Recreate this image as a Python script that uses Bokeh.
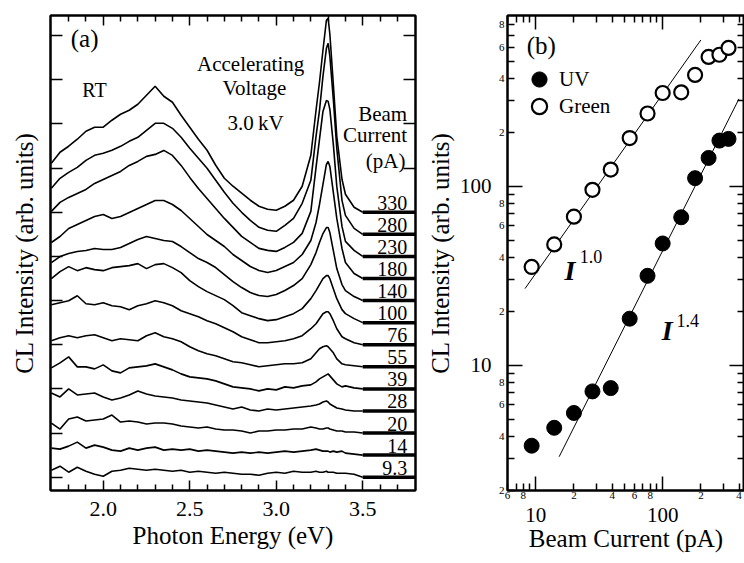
from bokeh.plotting import figure
from bokeh.models import (Range1d, LinearAxis, LogAxis, FixedTicker, CustomJSTickFormatter,
                          LabelSet, Legend, LegendItem, ColumnDataSource)
from bokeh.layouts import row
from bokeh.embed import file_html
from bokeh.resources import INLINE
from bokeh.core.properties import value

FONT = "serif"

# ---------------- panel (a) data: CL spectra (height above own baseline, arb. units)
energy = [1.70, 1.75, 1.80, 1.85, 1.90, 1.95, 2.00, 2.05, 2.10, 2.15, 2.20, 2.25, 2.30, 2.35,
          2.40, 2.45, 2.50, 2.55, 2.60, 2.65, 2.70, 2.75, 2.80, 2.85, 2.90, 2.95, 3.00, 3.05,
          3.10, 3.15, 3.20, 3.23, 3.25, 3.27, 3.29, 3.30, 3.31, 3.33, 3.35, 3.38, 3.40, 3.45, 3.50]

spec_9_3 = [7, 11, 5, 10, 6, 3, 1, 6, 7, 9, 8, 7, 8, 7, 6, 7, 5, 6, 5, 4, 5, 4, 3, 3, 2, 4, 5, 4, 6, 5,
            5, 6, 5, 5, 6, 5, 5, 5, 4, 4, 4, 3, 0]
spec_14 = [7, 6, 9, 13, 7, 10, 8, 5, 4, 7, 5, 7, 8, 5, 6, 5, 6, 4, 5, 4, 3, 2, 3, 2, 3, 2, 3, 4, 3, 4,
           5, 6, 5, 4, 4, 4, 3, 4, 3, 4, 2, 1, 0]
spec_20 = [10, 4, 14, 16, 12, 13, 14, 18, 11, 12, 11, 9, 10, 10, 9, 7, 6, 5, 6, 4, 3, 3, 2, 0, 2, 2, 3,
           3, 4, 4, 6, 5, 4, 4, 5, 5, 4, 3, 2, 2, 1, 1, 0]
spec_28 = [18, 14, 22, 16, 17, 18, 14, 11, 13, 16, 20, 17, 15, 14, 13, 11, 10, 9, 8, 6, 4, 2, 4, 1, 0,
           2, 1, 2, 3, 4, 5, 6, 7, 9, 10, 9, 7, 5, 3, 2, 1, 0, 0]
spec_39 = [21, 26, 32, 22, 22, 20, 24, 18, 16, 21, 22, 23, 25, 22, 19, 15, 12, 11, 10, 8, 5, 2, 1, 0,
           -2, 0, -1, 2, 1, 3, 4, 7, 10, 12, 14, 15, 13, 9, 5, 2, 3, 1, 0]
spec_55 = [26, 29, 31, 29, 31, 32, 29, 26, 28, 27, 26, 31, 34, 30, 28, 25, 20, 16, 13, 11, 8, 5, 4, 2,
           0, 1, 2, 3, 3, 4, 8, 14, 18, 20, 21, 20, 18, 14, 8, 3, 2, 1, 0]
spec_76 = [40, 42, 44, 49, 41, 40, 42, 39, 38, 35, 39, 41, 44, 42, 39, 34, 31, 28, 24, 21, 17, 13, 8,
           5, 2, 2, 3, 4, 6, 9, 16, 21, 26, 31, 33, 33, 31, 24, 16, 8, 6, 2, 0]
spec_100 = [44, 51, 56, 52, 55, 53, 52, 55, 56, 57, 59, 54, 58, 59, 55, 50, 42, 36, 31, 27, 23, 17, 10,
            7, 4, 2, 3, 6, 9, 14, 24, 32, 38, 44, 47, 47, 44, 34, 24, 13, 9, 4, 0]
spec_140 = [38, 44, 47, 49, 50, 52, 51, 51, 53, 57, 61, 64, 62, 60, 59, 54, 48, 42, 38, 33, 26, 19, 13,
            8, 5, 4, 6, 10, 15, 22, 36, 48, 58, 67, 73, 73, 68, 50, 32, 16, 10, 4, 0]
spec_180 = [36, 42, 50, 54, 58, 62, 64, 60, 62, 66, 70, 74, 78, 78, 74, 68, 60, 52, 44, 38, 32, 24, 18,
            12, 8, 6, 8, 12, 16, 24, 38, 56, 74, 94, 114, 117, 112, 86, 60, 30, 16, 5, 0]
spec_230 = [45, 54, 59, 63, 67, 73, 77, 81, 85, 91, 95, 100, 102, 106, 101, 91, 79, 68, 58, 48, 38, 29,
            20, 14, 8, 6, 5, 9, 14, 23, 45, 89, 117, 145, 156, 155, 147, 112, 70, 30, 15, 6, 0]
spec_280 = [46, 56, 62, 67, 74, 79, 81, 84, 88, 93, 97, 104, 111, 111, 106, 97, 86, 76, 66, 54, 42, 31,
            22, 14, 7, 4, 3, 9, 16, 31, 54, 98, 124, 158, 186, 191, 178, 135, 86, 34, 19, 6, 0]
spec_330 = [49, 60, 66, 73, 81, 85, 85, 92, 98, 102, 108, 117, 126, 116, 110, 97, 85, 73, 62, 47, 34,
            26, 19, 12, 6, 3, 2, 6, 12, 26, 57, 102, 130, 162, 192, 194, 178, 128, 76, 33, 18, 5, 0]

spectra = [spec_9_3, spec_14, spec_20, spec_28, spec_39, spec_55, spec_76, spec_100,
           spec_140, spec_180, spec_230, spec_280, spec_330]
current_labels = ["9.3", "14", "20", "28", "39", "55", "76", "100", "140", "180", "230", "280", "330"]

energy_ticks = [2.0, 2.5, 3.0, 3.5]
energy_minor = [1.8, 1.9, 2.1, 2.2, 2.3, 2.4, 2.6, 2.7, 2.8, 2.9, 3.1, 3.2, 3.3, 3.4, 3.6, 3.7]

# ---------------- panel (b) data
beam_current = [9.3, 14, 20, 28, 39, 55, 76, 100, 140, 180, 230, 280, 330]
uv_intensity = [3.55, 4.47, 5.41, 7.14, 7.45, 18.2, 31.6, 47.9, 67.1, 111, 144, 180, 184]
green_intensity = [35.4, 47.3, 67.6, 95.5, 124, 186, 255, 332, 335, 419, 528, 543, 593]
green_fit_x = [8.24, 200]
green_fit_y = [26.8, 657]
uv_fit_x = [15.3, 399]
uv_fit_y = [3.08, 308]

bx_major = [10, 100]
bx_minor = [6, 7, 8, 9, 20, 30, 40, 50, 60, 70, 80, 90, 200, 300, 400]
bx_labeled = [6, 8, 20, 40, 60, 80, 200, 400]
by_major = [10, 100]
by_minor = [2, 3, 4, 5, 6, 7, 8, 9, 20, 30, 40, 50, 60, 70, 80, 90, 200, 300, 400, 500, 600, 700, 800]
by_labeled = [2, 4, 6, 8, 20, 40, 60, 80, 200, 400, 600, 800]

# ---------------- layout constants
OFFSET = 22.08      # vertical shift between successive spectra
LABEL_X = 3.758     # right edge of the current labels

EMPTY = CustomJSTickFormatter(code="return '';")
DIGIT = CustomJSTickFormatter(code="""
const e = Math.floor(Math.log10(tick) + 1e-9);
return String(Math.round(tick / Math.pow(10, e)));
""")


def frame_axis(ax, ticker, major_in, minor_in, width=2):
    ax.ticker = ticker
    ax.axis_line_width = width
    ax.axis_line_color = "black"
    ax.major_tick_in = major_in
    ax.major_tick_out = 0
    ax.minor_tick_in = minor_in
    ax.minor_tick_out = 0
    ax.major_tick_line_width = 1.5
    ax.minor_tick_line_width = 1.5
    ax.major_tick_line_color = "black"
    ax.minor_tick_line_color = "black" if minor_in else None


def hide_labels(ax):
    ax.formatter = EMPTY
    ax.major_label_text_font_size = "0px"
    ax.major_label_standoff = 0


def label_axis(ax, ticker, formatter, size, standoff):
    ax.ticker = ticker
    ax.formatter = formatter
    ax.axis_line_color = None
    ax.major_tick_line_color = None
    ax.minor_tick_line_color = None
    ax.major_tick_in = 0
    ax.major_tick_out = 0
    ax.minor_tick_in = 0
    ax.minor_tick_out = 0
    ax.major_label_text_font = FONT
    ax.major_label_text_font_size = size
    ax.major_label_text_color = "black"
    ax.major_label_standoff = standoff


def axis_title(ax, text, standoff):
    ax.axis_label = text
    ax.axis_label_text_font = FONT
    ax.axis_label_text_font_size = "25px"
    ax.axis_label_text_font_style = "normal"
    ax.axis_label_text_color = "black"
    ax.axis_label_standoff = standoff


def add_text(p, xs, ys, texts, size, align="left", style="normal"):
    src = ColumnDataSource(dict(x=xs, y=ys, text=texts))
    p.add_layout(LabelSet(x="x", y="y", text="text", source=src, text_font=value(FONT),
                          text_font_size=size, text_font_style=style, text_align=align,
                          text_baseline="alphabetic", text_color="black"))


# ================= panel (a)
pa = figure(width=418, height=560,
            x_range=Range1d(1.695, 3.805), y_range=Range1d(-13.3, 461.7),
            output_backend="svg", toolbar_location=None,
            min_border_left=50, min_border_right=3, min_border_top=15, min_border_bottom=70)
pa.grid.visible = False
pa.outline_line_color = "black"
pa.outline_line_width = 2

offsets = [i * OFFSET for i in range(len(spectra))]
pa.multi_line(xs=[energy] * len(spectra),
              ys=[[v + off for v in s] for s, off in zip(spectra, offsets)],
              line_color="black", line_width=1.6)
pa.segment(x0=[energy[-1]] * len(offsets), y0=offsets,
           x1=[pa.x_range.end] * len(offsets), y1=offsets,
           line_color="black", line_width=3.5)
add_text(pa, [LABEL_X] * len(offsets), [o + 2.5 for o in offsets], current_labels, "20px", "right")

xa = pa.xaxis[0]
frame_axis(xa, FixedTicker(ticks=energy_ticks, minor_ticks=energy_minor), 10, 6)
xa.formatter = CustomJSTickFormatter(code="return tick.toFixed(1);")
xa.major_label_text_font = FONT
xa.major_label_text_font_size = "22px"
xa.major_label_text_color = "black"
xa.major_label_standoff = 11
axis_title(xa, "Photon Energy (eV)", 3)

top_a = LinearAxis()
frame_axis(top_a, FixedTicker(ticks=energy_ticks, minor_ticks=energy_minor), 10, 6)
hide_labels(top_a)
pa.add_layout(top_a, "above")

ya = pa.yaxis[0]
ytick_a = [2 * OFFSET * k for k in range(11)]
frame_axis(ya, FixedTicker(ticks=ytick_a, minor_ticks=[]), 12, 0)
hide_labels(ya)
axis_title(ya, "CL Intensity (arb. units)", 13)

right_a = LinearAxis()
frame_axis(right_a, FixedTicker(ticks=ytick_a, minor_ticks=[]), 12, 0)
hide_labels(right_a)
pa.add_layout(right_a, "right")

add_text(pa, [1.812], [430], ["(a)"], "25px")
add_text(pa, [1.879], [380], ["RT"], "20px")
add_text(pa, [2.852, 2.874, 2.880], [406, 382.4, 347.4],
         ["Accelerating", "Voltage", "3.0\u2009kV"], "21px", "center")
add_text(pa, [3.757, 3.757, 3.747], [356, 335, 309], ["Beam", "Current", "(pA)"], "21px", "right")

# ================= panel (b)
pb = figure(width=326, height=560, x_axis_type="log", y_axis_type="log",
            x_range=Range1d(6.0, 441), y_range=Range1d(1.995, 900),
            output_backend="svg", toolbar_location=None,
            min_border_left=89, min_border_right=0, min_border_top=7, min_border_bottom=69)
pb.grid.visible = False
pb.outline_line_color = "black"
pb.outline_line_width = 2

pb.line(green_fit_x, green_fit_y, line_color="black", line_width=1)
pb.line(uv_fit_x, uv_fit_y, line_color="black", line_width=1)
r_uv = pb.scatter(beam_current, uv_intensity, marker="circle", size=15,
                  fill_color="black", line_color="black", line_width=1)
r_green = pb.scatter(beam_current, green_intensity, marker="circle", size=14,
                     fill_color="white", line_color="black", line_width=2.2)

xb = pb.xaxis[0]
frame_axis(xb, FixedTicker(ticks=bx_major, minor_ticks=bx_minor), 14, 7)
hide_labels(xb)
xb_small = LogAxis()
label_axis(xb_small, FixedTicker(ticks=bx_labeled, minor_ticks=[]), DIGIT, "11px", 1)
pb.add_layout(xb_small, "below")
xb_dec = LogAxis()
label_axis(xb_dec, FixedTicker(ticks=bx_major, minor_ticks=[]),
           CustomJSTickFormatter(code="return tick.toFixed(0);"), "21px", 6)
axis_title(xb_dec, "Beam Current (pA)", 0)
pb.add_layout(xb_dec, "below")

top_b = LogAxis()
frame_axis(top_b, FixedTicker(ticks=bx_major, minor_ticks=bx_minor), 14, 7)
hide_labels(top_b)
pb.add_layout(top_b, "above")

yb = pb.yaxis[0]
frame_axis(yb, FixedTicker(ticks=by_major, minor_ticks=by_minor), 15, 7)
hide_labels(yb)
yb_small = LogAxis()
label_axis(yb_small, FixedTicker(ticks=by_labeled, minor_ticks=[]), DIGIT, "11px", 3)
pb.add_layout(yb_small, "left")
yb_dec = LogAxis()
label_axis(yb_dec, FixedTicker(ticks=by_major, minor_ticks=[]),
           CustomJSTickFormatter(code="return tick.toFixed(0);"), "21px", 4)
axis_title(yb_dec, "CL Intensity (arb. units)", 3)
pb.add_layout(yb_dec, "left")

right_b = LogAxis()
frame_axis(right_b, FixedTicker(ticks=by_major, minor_ticks=by_minor), 15, 7)
hide_labels(right_b)
pb.add_layout(right_b, "right")

for item, loc in [(LegendItem(label="UV", renderers=[r_uv]), (13, 392)),
                  (LegendItem(label="Green", renderers=[r_green]), (13, 365))]:
    pb.add_layout(Legend(items=[item], location=loc, orientation="vertical",
                         glyph_width=38, glyph_height=38, spacing=0, padding=0, margin=0,
                         label_standoff=1, label_text_font=FONT, label_text_font_size="21px",
                         label_text_color="black", border_line_color=None,
                         background_fill_alpha=0))

add_text(pb, [8.5], [548], ["(b)"], "25px")
add_text(pb, [16.9, 98.2], [30.0, 13.9], ["I", "I"], "28px", style="bold italic")
add_text(pb, [22.2, 128.8], [37.2, 16.4], ["1.0", "1.4"], "18px")

layout = row(pa, pb)
open("out.html", "w").write(file_html(layout, INLINE))
